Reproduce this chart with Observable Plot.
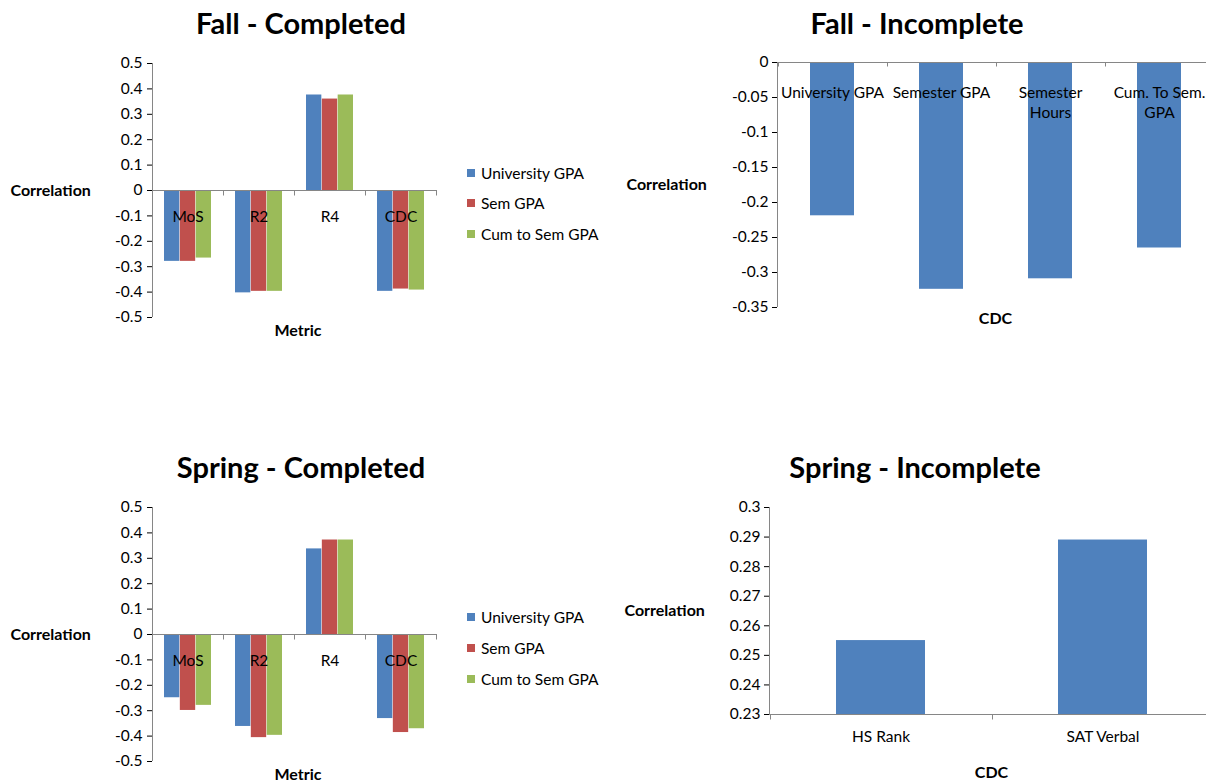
<!DOCTYPE html>
<html>
<head>
<meta charset="utf-8">
<script src="https://cdn.jsdelivr.net/npm/d3@7"></script>
<script src="https://cdn.jsdelivr.net/npm/@observablehq/plot@0.6"></script>
<style>
  html, body { margin: 0; padding: 0; background: #fff; }
  body { width: 1206px; height: 782px; overflow: hidden; position: relative; font-family: Lato, "Open Sans", sans-serif; color: #000; }
  .panel { position: absolute; }
  .panel svg { max-width: none !important; overflow: visible; }
  .title { position: absolute; transform: translate(-50%, -50%); font-weight: bold; font-size: 29px; white-space: nowrap; }
  .legend { position: absolute; font-size: 15.5px; }
  .legend .row { position: absolute; white-space: nowrap; transform: translateY(-50%); display: flex; align-items: center; }
  .legend .sw { width: 8px; height: 8px; margin-right: 6px; display: inline-block; }
</style>
</head>
<body>
<script>
// ---------------- data ----------------
const seriesNames = ["University GPA", "Sem GPA", "Cum to Sem GPA"];
const seriesColors = ["#4F81BD", "#C0504D", "#9BBB59"];
const metrics = ["MoS", "R2", "R4", "CDC"];

const fallUniv = [-0.279, -0.403, 0.376, -0.397];
const fallSem  = [-0.279, -0.397, 0.360, -0.388];
const fallCum  = [-0.266, -0.397, 0.376, -0.392];

const springUniv = [-0.249, -0.362, 0.337, -0.331];
const springSem  = [-0.299, -0.406, 0.372, -0.386];
const springCum  = [-0.279, -0.397, 0.372, -0.371];

const fallIncCats   = ["University GPA", "Semester GPA", "Semester Hours", "Cum. To Sem. GPA"];
const fallIncLabels = ["University GPA", "Semester GPA", "Semester\nHours", "Cum. To Sem.\nGPA"];
const fallIncVals   = [-0.219, -0.324, -0.309, -0.265];

const springIncCats = ["HS Rank", "SAT Verbal"];
const springIncVals = [0.255, 0.289];

const completedTicks = [-0.5, -0.4, -0.3, -0.2, -0.1, 0, 0.1, 0.2, 0.3, 0.4, 0.5];
const fallIncTicks   = [-0.35, -0.3, -0.25, -0.2, -0.15, -0.1, -0.05, 0];
const springIncTicks = [0.23, 0.24, 0.25, 0.26, 0.27, 0.28, 0.29, 0.3];

const titles = ["Fall - Completed", "Fall - Incomplete", "Spring - Completed", "Spring - Incomplete"];
const yLabel = "Correlation";
const xLabelCompleted = "Metric";
const xLabelIncomplete = "CDC";

// ---------------- helpers ----------------
const AXIS = "#868686";
const FONT = "Lato, 'Open Sans', sans-serif";
const FS = 15.5;   // regular text size
const FSB = 16;    // bold axis-title size
const fmt = d => String(d);

function rowsOf(series) {
  const out = [];
  series.forEach((vals, si) => vals.forEach((v, mi) => out.push({metric: metrics[mi], series: seriesNames[si], value: v})));
  return out;
}

// axis line, baseline and category-boundary ticks, drawn from the plot's scales
function frameLines(baseline, tickLen) {
  return (index, scales, values, dims) => {
    const {x, y} = scales;
    const g = d3.create("svg:g").attr("stroke", AXIS).attr("stroke-width", 1).attr("fill", "none");
    const top = dims.marginTop, bottom = dims.height - dims.marginBottom;
    const left = dims.marginLeft, right = dims.width - dims.marginRight;
    const by = Math.round(y(baseline)) + 0.5;
    g.append("line").attr("x1", left + 0.5).attr("x2", left + 0.5).attr("y1", top).attr("y2", bottom);
    g.append("line").attr("x1", left).attr("x2", right).attr("y1", by).attr("y2", by);
    const dom = x.domain();
    const step = x.step(), gap = (step - x.bandwidth()) / 2;
    const bounds = dom.map(c => x(c) - gap).concat([x(dom[dom.length - 1]) + x.bandwidth() + gap]);
    bounds.forEach(bx => {
      const px = Math.round(bx) + 0.5;
      g.append("line").attr("x1", px).attr("x2", px).attr("y1", by).attr("y2", by + tickLen);
    });
    return g.node();
  };
}

function place(node, left, top) {
  const d = document.createElement("div");
  d.className = "panel";
  d.style.left = left + "px";
  d.style.top = top + "px";
  d.appendChild(node);
  document.body.appendChild(d);
}

function addTitle(text, cx, cy) {
  const t = document.createElement("div");
  t.className = "title";
  t.textContent = text;
  t.style.left = cx + "px";
  t.style.top = cy + "px";
  document.body.appendChild(t);
}

function addLegend(left, rowYs) {
  const lg = document.createElement("div");
  lg.className = "legend";
  lg.style.left = left + "px";
  lg.style.top = "0px";
  seriesNames.forEach((name, i) => {
    const r = document.createElement("div");
    r.className = "row";
    r.style.top = rowYs[i] + "px";
    const sw = document.createElement("span");
    sw.className = "sw";
    sw.style.background = seriesColors[i];
    r.appendChild(sw);
    r.appendChild(document.createTextNode(name));
    lg.appendChild(r);
  });
  document.body.appendChild(lg);
}

const baseStyle = {fontFamily: FONT, fontSize: FS + "px", color: "#000", background: "transparent", overflow: "visible"};

function completedChart(series, marginTop, height, metricDy) {
  const width = 450, marginLeft = 152, marginRight = 13;
  const marginBottom = height - marginTop - 254;
  const data = rowsOf(series);
  const step = (width - marginLeft - marginRight) / metrics.length;
  const bw = step * 2 / 3, sub = bw / 3;
  const bars = seriesNames.map((s, i) =>
    Plot.barY(data.filter(d => d.series === s), {
      x: "metric", y: "value", fill: seriesColors[i],
      insetLeft: i * sub, insetRight: (2 - i) * sub
    })
  );
  return Plot.plot({
    width, height, marginLeft, marginRight, marginTop, marginBottom,
    style: baseStyle,
    x: {domain: metrics, paddingInner: 1 / 3, paddingOuter: 1 / 6, axis: null},
    y: {domain: [-0.5, 0.5], ticks: completedTicks, tickFormat: fmt, tickSize: 5, tickPadding: 5, label: null},
    marks: [
      ...bars,
      frameLines(0, 5),
      Plot.text(metrics, {x: d => d, y: () => 0, dy: 27, text: d => d, fontSize: FS, fill: "#000"}),
      Plot.text([yLabel], {frameAnchor: "left", dx: -142, textAnchor: "start", fontWeight: "bold", fontSize: FSB}),
      Plot.text([xLabelCompleted], {frameAnchor: "bottom", dx: 3, dy: metricDy, fontWeight: "bold", fontSize: FSB})
    ]
  });
}

// ---------------- Fall - Completed ----------------
place(completedChart([fallUniv, fallSem, fallCum], 63, 345, 18), 0, 0);
addTitle(titles[0], 301, 22);
addLegend(467, [173, 203, 234]);

// ---------------- Spring - Completed ----------------
place(completedChart([springUniv, springSem, springCum], 67, 342, 18), 0, 440);
addTitle(titles[2], 301, 466);
addLegend(467, [617, 648, 679]);

// ---------------- Fall - Incomplete ----------------
const fallInc = fallIncCats.map((c, i) => ({cat: c, label: fallIncLabels[i], value: fallIncVals[i]}));
place(Plot.plot({
  width: 613, height: 340, marginLeft: 177, marginRight: 0, marginTop: 62, marginBottom: 33,
  style: baseStyle,
  x: {domain: fallIncCats, paddingInner: 0.6, paddingOuter: 0.3, axis: null},
  y: {domain: [-0.35, 0], ticks: fallIncTicks, tickFormat: fmt, tickSize: 5, tickPadding: 4, label: null},
  marks: [
    Plot.barY(fallInc, {x: "cat", y: "value", fill: seriesColors[0]}),
    frameLines(0, 4),
    Plot.text(fallInc, {x: "cat", y: () => 0, text: "label", lineAnchor: "top", dy: 21, lineHeight: 1.3, fontSize: FS, fill: "#000"}),
    Plot.text([yLabel], {frameAnchor: "left", dx: -151, textAnchor: "start", fontWeight: "bold", fontSize: FSB}),
    Plot.text([xLabelIncomplete], {frameAnchor: "bottom", dy: 16, fontWeight: "bold", fontSize: FSB})
  ]
}), 600, 0);
addTitle(titles[1], 917, 22);

// ---------------- Spring - Incomplete ----------------
const springInc = springIncCats.map((c, i) => ({cat: c, value: springIncVals[i]}));
place(Plot.plot({
  width: 613, height: 342, marginLeft: 169, marginRight: 0, marginTop: 67, marginBottom: 68,
  style: baseStyle,
  x: {domain: springIncCats, paddingInner: 0.6, paddingOuter: 0.3, axis: null},
  y: {domain: [0.23, 0.3], ticks: springIncTicks, tickFormat: fmt, tickSize: 5, tickPadding: 4, label: null},
  marks: [
    Plot.barY(springInc, {x: "cat", y1: () => springIncTicks[0], y2: "value", fill: seriesColors[0]}),
    frameLines(springIncTicks[0], 5),
    Plot.text(springInc, {x: "cat", frameAnchor: "bottom", dy: 27, text: "cat", fontSize: FS, fill: "#000"}),
    Plot.text([yLabel], {frameAnchor: "left", dx: -145, textAnchor: "start", fontWeight: "bold", fontSize: FSB}),
    Plot.text([xLabelIncomplete], {frameAnchor: "bottom", dy: 63, fontWeight: "bold", fontSize: FSB})
  ]
}), 600, 440);
addTitle(titles[3], 915, 466);
</script>
</body>
</html>
